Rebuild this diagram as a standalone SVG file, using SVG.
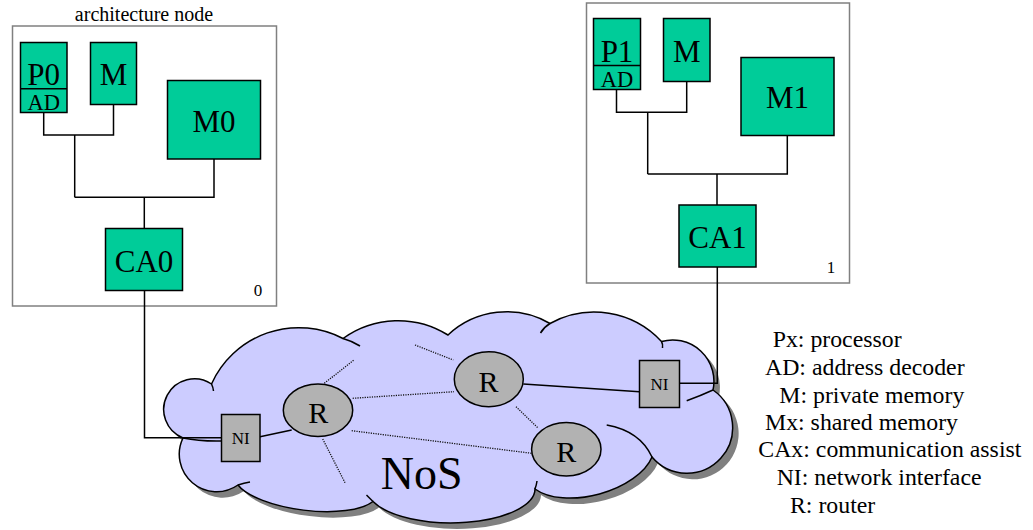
<svg xmlns="http://www.w3.org/2000/svg" xmlns:xlink="http://www.w3.org/1999/xlink" width="1033" height="530" viewBox="0 0 1033 530" font-family="'Liberation Serif', 'DejaVu Serif', serif">
  <defs>
    <style>
      text { font-family: 'Liberation Serif', 'DejaVu Serif', serif; fill: #000; }
      .frame { fill: #fff; stroke: #808080; stroke-width: 1.5; }
      .blk { fill: #00cc99; stroke: #000; stroke-width: 1.5; }
      .wire { fill: none; stroke: #000; stroke-width: 1.5; }
      .dot { fill: none; stroke: #111; stroke-width: 1.3; stroke-dasharray: 1.2 1.2; }
      .gray { fill: #b2b2b2; stroke: #000; stroke-width: 1.5; }
      .cloud { fill: #ccccff; stroke: #000; stroke-width: 1.5; }
      .shadow { fill: #808080; stroke: none; }
      .fold { fill: none; stroke: #000; stroke-width: 1.5; }
      .c { text-anchor: middle; }
      .f31 { font-size: 31px; }
      .f22 { font-size: 22.5px; }
      .f30 { font-size: 30px; }
      .f17 { font-size: 17px; }
      .leg { font-size: 23.8px; }
    </style>
    <!-- outline of the network cloud, one arc per bump -->
    <path id="cloudShape" d="M 183 438
      A 30.7 30.7 0 1 1 211.5 384
      A 95.7 95.7 0 0 1 343 338.5
      A 94.1 94.1 0 0 1 448 335
      A 85.9 85.9 0 0 1 550 323.5
      A 91.6 91.6 0 0 1 661.5 341.5
      A 41.3 41.3 0 0 1 713 390
      A 45.7 45.7 0 1 1 652 457
      A 66 36 -15 0 1 535 489
      A 84 34 0 0 1 373 501.5
      A 72 25.3 7 0 1 238 485
      A 37.4 37.4 0 0 1 183 438 Z"/>
  </defs>

  <!-- architecture node 0 -->
  <g id="node0">
    <text x="144" y="21" class="c" font-size="20">architecture node</text>
    <rect class="frame" x="12.5" y="26" width="264" height="280"/>
    <text x="258" y="296" class="c f17">0</text>
  </g>
  <g id="p0">
    <rect class="blk" x="20.5" y="42.5" width="46.5" height="70"/>
    <line x1="20.5" y1="88.7" x2="67" y2="88.7" stroke="#000" stroke-width="1.5"/>
    <text x="43.7" y="85" class="c f31">P0</text>
    <text x="43.7" y="110" class="c f22">AD</text>
  </g>
  <g id="mem0">
    <rect class="blk" x="90.5" y="42.5" width="46" height="62"/>
    <text x="113.5" y="85" class="c f31">M</text>
  </g>
  <g id="m0">
    <rect class="blk" x="167.5" y="80.5" width="93" height="78.5"/>
    <text x="214" y="131.5" class="c f31">M0</text>
  </g>
  <g id="ca0">
    <rect class="blk" x="105.5" y="228.5" width="77" height="62"/>
    <text x="144" y="271.5" class="c f31">CA0</text>
  </g>

  <!-- architecture node 1 -->
  <g id="node1">
    <rect class="frame" x="586.5" y="3" width="263" height="280"/>
    <text x="831" y="272.7" class="c f17">1</text>
  </g>
  <g id="p1">
    <rect class="blk" x="593.5" y="18.5" width="47" height="71"/>
    <line x1="593.5" y1="65.5" x2="640.5" y2="65.5" stroke="#000" stroke-width="1.5"/>
    <text x="617" y="61.7" class="c f31">P1</text>
    <text x="617" y="86.7" class="c f22">AD</text>
  </g>
  <g id="mem1">
    <rect class="blk" x="663.5" y="18.5" width="46.5" height="63"/>
    <text x="686.7" y="61.7" class="c f31">M</text>
  </g>
  <g id="m1">
    <rect class="blk" x="741" y="57.5" width="93" height="78"/>
    <text x="787.5" y="108.3" class="c f31">M1</text>
  </g>
  <g id="ca1">
    <rect class="blk" x="679" y="205" width="77" height="62"/>
    <text x="717.5" y="248.3" class="c f31">CA1</text>
  </g>

  <!-- network on silicon -->
  <g id="nos">
    <use xlink:href="#cloudShape" class="shadow" transform="translate(6,6)"/>
    <use xlink:href="#cloudShape" class="cloud"/>
    <!-- bump folds inside the outline -->
    <path class="fold" d="M 211.5 384 Q 213.2 387.5 213.5 391"/>
    <path class="fold" d="M 343 338.5 Q 352 341 360 346"/>
    <path class="fold" d="M 550 323.5 Q 544 327 540.5 333"/>
    <path class="fold" d="M 661.5 341.5 Q 663 344 662.5 348"/>
    <path class="fold" d="M 686.7 400.7 Q 700 396 713 390"/>
    <path class="fold" d="M 606.7 425 Q 640 431 652 457"/>
    <path class="fold" d="M 535 489 Q 536.5 485 537 481"/>
    <path class="fold" d="M 373 501.5 Q 369 497.5 366.5 495"/>
    <path class="fold" d="M 238 485 Q 244 483 250 482"/>
    <path class="fold" d="M 183 438 Q 200 441.5 221.7 441"/>
    <text x="421.7" y="489.3" class="c" font-size="46">NoS</text>
  </g>

  <!-- connectors -->
  <g id="connectors">
    <polyline class="wire" points="43.7,112.5 43.7,135 113.5,135 113.5,104.5"/>
    <polyline class="wire" points="74.7,135 74.7,197.3"/>
    <polyline class="wire" points="74.7,197.3 214,197.3 214,159"/>
    <polyline class="wire" points="144.3,197.3 144.3,228.5"/>
    <polyline class="wire" points="144.5,290.5 144.5,437.7 221.5,437.7"/>

    <polyline class="wire" points="616.5,89.5 616.5,112.3 686.7,112.3 686.7,81.5"/>
    <polyline class="wire" points="647.7,112.3 647.7,174"/>
    <polyline class="wire" points="647.7,174 787.3,174 787.3,135.5"/>
    <polyline class="wire" points="717,174 717,205"/>
    <polyline class="wire" points="717.3,267 717.3,383.3 679.5,383.3"/>

    <line class="wire" x1="260" y1="436.7" x2="291.7" y2="430"/>
    <line class="wire" x1="523.3" y1="384" x2="639.5" y2="391.7"/>

    <line class="dot" x1="324.3" y1="383.3" x2="354" y2="360"/>
    <line class="dot" x1="415" y1="345" x2="453.3" y2="360"/>
    <line class="dot" x1="352.7" y1="398.3" x2="454" y2="391.7"/>
    <line class="dot" x1="351.7" y1="430.7" x2="531.7" y2="453.3"/>
    <line class="dot" x1="322.7" y1="439" x2="345" y2="482.7"/>
    <line class="dot" x1="516" y1="406.7" x2="538.3" y2="428.3"/>
  </g>

  <!-- routers and network interfaces -->
  <g id="r1">
    <ellipse class="gray" cx="318" cy="410.3" rx="34.7" ry="26.3"/>
    <text x="318.3" y="422.7" class="c f30">R</text>
  </g>
  <g id="r2">
    <ellipse class="gray" cx="488.8" cy="379.2" rx="34.5" ry="27.5"/>
    <text x="488.5" y="391.7" class="c f30">R</text>
  </g>
  <g id="r3">
    <ellipse class="gray" cx="566.3" cy="449.3" rx="34.7" ry="26.7"/>
    <text x="566.3" y="461.7" class="c f30">R</text>
  </g>
  <g id="ni0">
    <rect class="gray" x="221.5" y="414.5" width="38.5" height="47"/>
    <text x="240.7" y="444" class="c f17">NI</text>
  </g>
  <g id="ni1">
    <rect class="gray" x="639.5" y="360.5" width="40" height="47"/>
    <text x="659.5" y="390" class="c f17">NI</text>
  </g>

  <!-- legend -->
  <g id="legend">
    <text x="772.7" y="347.3" class="leg">Px: processor</text>
    <text x="765" y="375" class="leg">AD: address decoder</text>
    <text x="779.3" y="402.7" class="leg">M: private memory</text>
    <text x="765" y="430" class="leg">Mx: shared memory</text>
    <text x="758.3" y="457.3" class="leg">CAx: communication assist</text>
    <text x="776.7" y="485" class="leg">NI: network interface</text>
    <text x="790" y="512.7" class="leg">R: router</text>
  </g>
</svg>
